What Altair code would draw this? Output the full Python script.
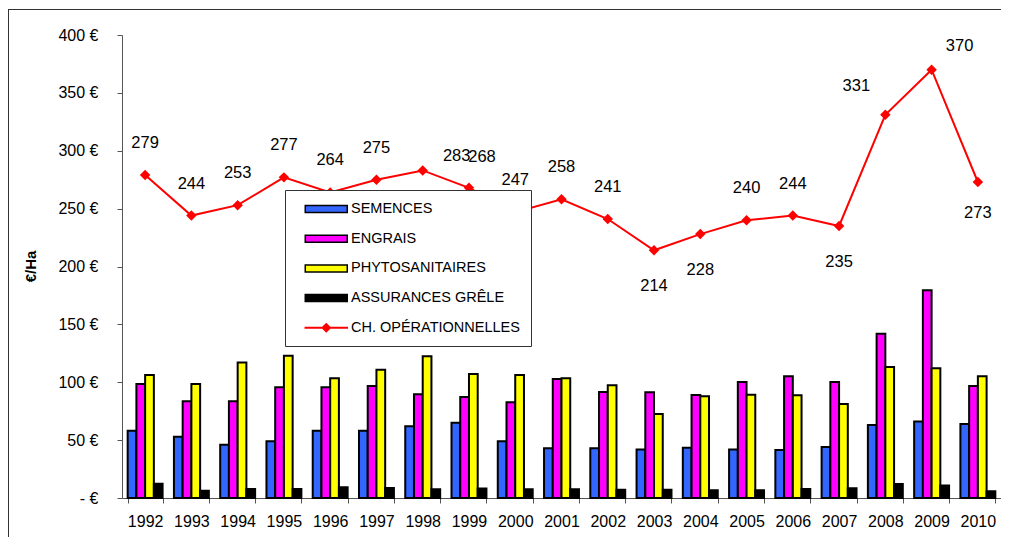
import altair as alt
import pandas as pd

# ---------------- data ----------------
years = [str(y) for y in range(1992, 2011)]
semences = [58, 53, 46, 49, 58, 58, 62, 65, 49, 43, 43, 42, 43.5, 42, 41.5, 44, 63, 66, 64]
engrais = [98.5, 83.5, 83.5, 95.6, 95.6, 96.8, 89.6, 87.3, 82.7, 102.8, 91.6, 91.3, 89, 100.2, 105.1, 100.2, 142, 179.4, 96.8]
phyto = [106.3, 98.5, 117, 123, 103.4, 110.9, 122.4, 107.1, 106.3, 103.4, 97.4, 72.6, 87.9, 89.3, 88.7, 81.2, 113.2, 112, 105.1]
assurances = [12.4, 6.3, 7.8, 7.8, 9.2, 8.6, 7.5, 8.1, 7.5, 7.5, 7.2, 7.2, 6.6, 6.6, 7.8, 8.4, 12.1, 10.7, 5.8]
ch_oper = [279, 244, 253, 277, 264, 275, 283, 268, 247, 258, 241, 214, 228, 240, 244, 235, 331, 370, 273]

series_names = ["SEMENCES", "ENGRAIS", "PHYTOSANITAIRES", "ASSURANCES GRÊLE", "CH. OPÉRATIONNELLES"]
colors = ["#3366FF", "#FF00FF", "#FFFF00", "#000000", "#FF0000"]
y_ticks = [0, 50, 100, 150, 200, 250, 300, 350, 400]

bar_rows = []
for i, yr in enumerate(years):
    for name, vals in zip(series_names[:4], [semences, engrais, phyto, assurances]):
        bar_rows.append({"year": yr, "series": name, "value": vals[i]})
bars_df = pd.DataFrame(bar_rows)
line_df = pd.DataFrame({"year": years, "value": ch_oper})
legend_df = pd.DataFrame({"series": series_names})

FONT = "Liberation Sans"
AXIS_GRAY = "#555555"

x_enc = alt.X(
    "year:N", sort=years,
    scale=alt.Scale(paddingInner=0.245, paddingOuter=0.1225),
    axis=alt.Axis(title=None, labelAngle=0, tickBand="extent", tickSize=5,
                  labelFontSize=16, labelPadding=10, labelColor="black",
                  domainColor=AXIS_GRAY, tickColor=AXIS_GRAY, grid=False),
)
y_enc = alt.Y(
    "value:Q",
    scale=alt.Scale(domain=[0, 400], nice=False),
    axis=alt.Axis(values=y_ticks, grid=False, tickSize=5, labelPadding=19,
                  labelFontSize=16, labelColor="black",
                  labelExpr="datum.value == 0 ? '- €' : datum.value + ' €'",
                  domainColor=AXIS_GRAY, tickColor=AXIS_GRAY,
                  title="€/Ha", titleFontSize=15, titleFontWeight="bold",
                  titleAngle=270, titleX=-92, titleY=231, titleAlign="center",
                  titleBaseline="middle", titleColor="black"),
)

# outer frame of the chart area
frame_top = alt.Chart(alt.Data(values=[{}])).mark_rule(color="#333333", strokeWidth=1).encode(
    x=alt.value(-114), x2=alt.value(900), y=alt.value(-25.5))
frame_left = alt.Chart(alt.Data(values=[{}])).mark_rule(color="#333333", strokeWidth=1).encode(
    x=alt.value(-113.5), y=alt.value(-25.5), y2=alt.value(560))

bars = alt.Chart(bars_df).mark_bar(stroke="black", strokeWidth=2).encode(
    x=x_enc,
    xOffset=alt.XOffset("series:N", sort=series_names[:4],
                        scale=alt.Scale(domain=series_names[:4], paddingInner=0, paddingOuter=0)),
    y=y_enc,
    color=alt.Color("series:N", scale=alt.Scale(domain=series_names[:4], range=colors[:4]), legend=None),
)

line = alt.Chart(line_df).mark_line(color="#FF0000", strokeWidth=2).encode(x=x_enc, y=y_enc)
points = alt.Chart(line_df).mark_point(shape="diamond", filled=True, color="#FF0000", size=110, opacity=1).encode(
    x=x_enc, y=y_enc)


def labels(sel_years, dx, dy):
    return alt.Chart(line_df).transform_filter(
        alt.FieldOneOfPredicate(field="year", oneOf=sel_years)
    ).mark_text(fontSize=16.5, color="black", dx=dx, dy=dy, baseline="middle", align="center").encode(
        x=x_enc, y=y_enc, text="value:Q")


above = ["1992", "1993", "1994", "1995", "1996", "1997", "2000", "2001", "2002", "2005", "2006"]
below = ["2003", "2004", "2007"]
text_layers = [
    labels(above, 0, -32),
    labels(below, 0, 36),
    labels(["2010"], 0, 31),
    labels(["1998"], 34, -14),
    labels(["1999"], 13, -31),
    labels(["2008"], -29, -29),
    labels(["2009"], 28, -24),
]

rect_path = "M0.18,-0.5H6.18V0.5H0.18Z"
line_path = "M0.18,-0.03H6.18V0.03H0.18Z M3.18,-0.571L3.75,0L3.18,0.571L2.61,0Z"

leg = alt.Legend(title=None, orient="none", legendX=163, legendY=155,
                 fillColor="white", strokeColor="#333333", padding=11,
                 symbolSize=196, symbolStrokeWidth=1.5, symbolOpacity=1,
                 labelFontSize=14.5, labelFont=FONT, labelColor="black",
                 labelOffset=39, rowPadding=14.7, zindex=1, labelLimit=400,
                 labelExpr="datum.label + '\u00a0\u00a0\u00a0'")

legend_layer = alt.Chart(legend_df).mark_point(filled=True, opacity=0, strokeWidth=1.5).encode(
    fill=alt.Fill("series:N", scale=alt.Scale(domain=series_names, range=colors), legend=leg),
    stroke=alt.Stroke("series:N", scale=alt.Scale(domain=series_names, range=["black"] * 4 + ["#FF0000"]), legend=leg),
    shape=alt.Shape("series:N", scale=alt.Scale(domain=series_names, range=[rect_path] * 4 + [line_path]), legend=leg),
)

chart = alt.layer(
    frame_top, frame_left, bars, line, points, *text_layers, legend_layer
).properties(
    width=879, height=463,
    padding={"left": 114, "top": 27, "right": 0, "bottom": 39},
    autosize=alt.AutoSizeParams(type="none"),
    background="white",
).configure(font=FONT).configure_view(stroke=None).configure_axis(labelFont=FONT, titleFont=FONT)

chart.save("out.html", embed_options={"renderer": "svg", "actions": False})
